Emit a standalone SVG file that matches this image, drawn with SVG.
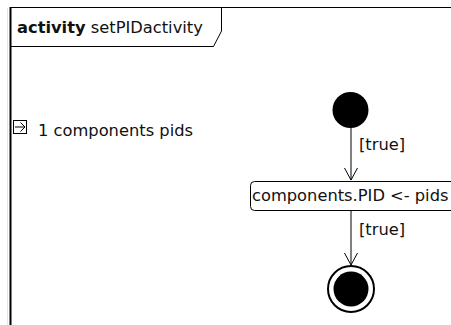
<svg xmlns="http://www.w3.org/2000/svg" width="451" height="325" viewBox="0 0 451 325">
<style>
text{font-family:"DejaVu Sans","Liberation Sans",sans-serif;font-size:16.3px;fill:#111}
.b{font-weight:bold}
.ln{stroke:#000;stroke-width:1;fill:none}
</style>
<rect width="451" height="325" fill="#fff"/>
<g id="frame">
<line x1="7.5" y1="8" x2="7.5" y2="325" stroke="#ebe3da" stroke-width="1"/>
<line x1="10" y1="7.5" x2="451" y2="7.5" class="ln"/>
<line x1="10.5" y1="7" x2="10.5" y2="325" stroke="#000" stroke-width="2"/>
<path d="M10.5,7.5 H221.5 V31 L213.5,46.5 H10.5" class="ln"/>
<text x="17" y="33"><tspan class="b">activity</tspan> setPIDactivity</text>
</g>
<g id="param">
<rect x="13.5" y="120.5" width="13" height="13" class="ln"/>
<path d="M15,127 H25 M20.5,122.5 L25,127 L20.5,131.5" class="ln" stroke-width="1.3"/>
<text x="38" y="136">1 components pids</text>
</g>
<g id="connectors">
<line x1="351" y1="127" x2="351" y2="180" class="ln"/>
<path d="M344.5,168 L351,180 L357.5,168" class="ln"/>
<text x="359" y="150">[true]</text>
<line x1="351" y1="211" x2="351" y2="265" class="ln"/>
<path d="M344.5,253 L351,265 L357.5,253" class="ln"/>
<text x="359" y="235">[true]</text>
</g>
<g id="initial">
<circle cx="350.5" cy="110" r="18" fill="#000"/>
</g>
<g id="action">
<rect x="250.5" y="181.5" width="210" height="29" rx="4" class="ln" fill="#fff"/>
<text x="252" y="201">components.PID &lt;- pids</text>
</g>
<g id="final">
<circle cx="351" cy="289" r="23" fill="#fff" stroke="#000" stroke-width="2"/>
<circle cx="351" cy="289" r="17.5" fill="#000"/>
</g>
</svg>
